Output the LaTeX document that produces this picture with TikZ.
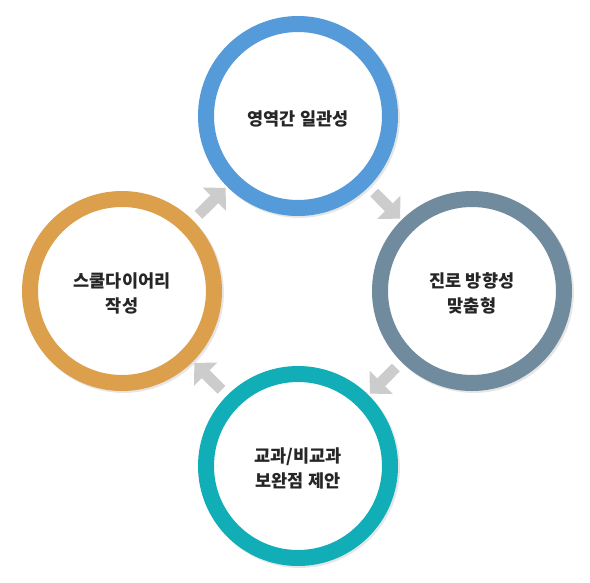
\documentclass[tikz,border=0pt]{standalone}
\usepackage{fontspec}
\newfontfamily\kr{Noto Sans CJK KR}
\usetikzlibrary{arrows.meta,shadows}
\definecolor{ringblue}{HTML}{559AD9}
\definecolor{ringslate}{HTML}{708A9E}
\definecolor{ringteal}{HTML}{12AEB8}
\definecolor{ringorange}{HTML}{DCA04C}
\definecolor{flowgray}{HTML}{CCCCCC}
\begin{document}
\begin{tikzpicture}[x=1pt,y=-1pt]
\tikzstyle{ring}=[circle, minimum size=184pt, inner sep=0pt, line width=16pt, fill=white, drop shadow={shadow xshift=1.5pt, shadow yshift=-1.5pt, shadow scale=1.09, opacity=0.2}]
\tikzstyle{words}=[align=center, yshift=-2.5pt, text=black!85, font=\kr\bfseries\fontsize{17.5}{25}\selectfont]
\tikzstyle{flow}=[draw=flowgray, line width=11pt, -{Triangle[width=32pt,length=16pt]}, shorten <=8pt, shorten >=2pt]
\useasboundingbox (0,0) rectangle (590,582);

\node[ring, draw=ringblue] (align) at (298,116) [label={[words]center:{영역간 일관성}}]{};
\node[ring, draw=ringslate] (career) at (472,291) [label={[words]center:{진로 방향성\\맞춤형}}]{};
\node[ring, draw=ringteal] (supplement) at (298,466) [label={[words]center:{교과/비교과\\보완점 제안}}]{};
\node[ring, draw=ringorange] (diary) at (122,291) [label={[words]center:{스쿨다이어리\\작성}}]{};

\path
	(diary) edge[flow] (align)
	(align) edge[flow] (career)
	(career) edge[flow] (supplement)
	(supplement) edge[flow] (diary);
\end{tikzpicture}
\end{document}
